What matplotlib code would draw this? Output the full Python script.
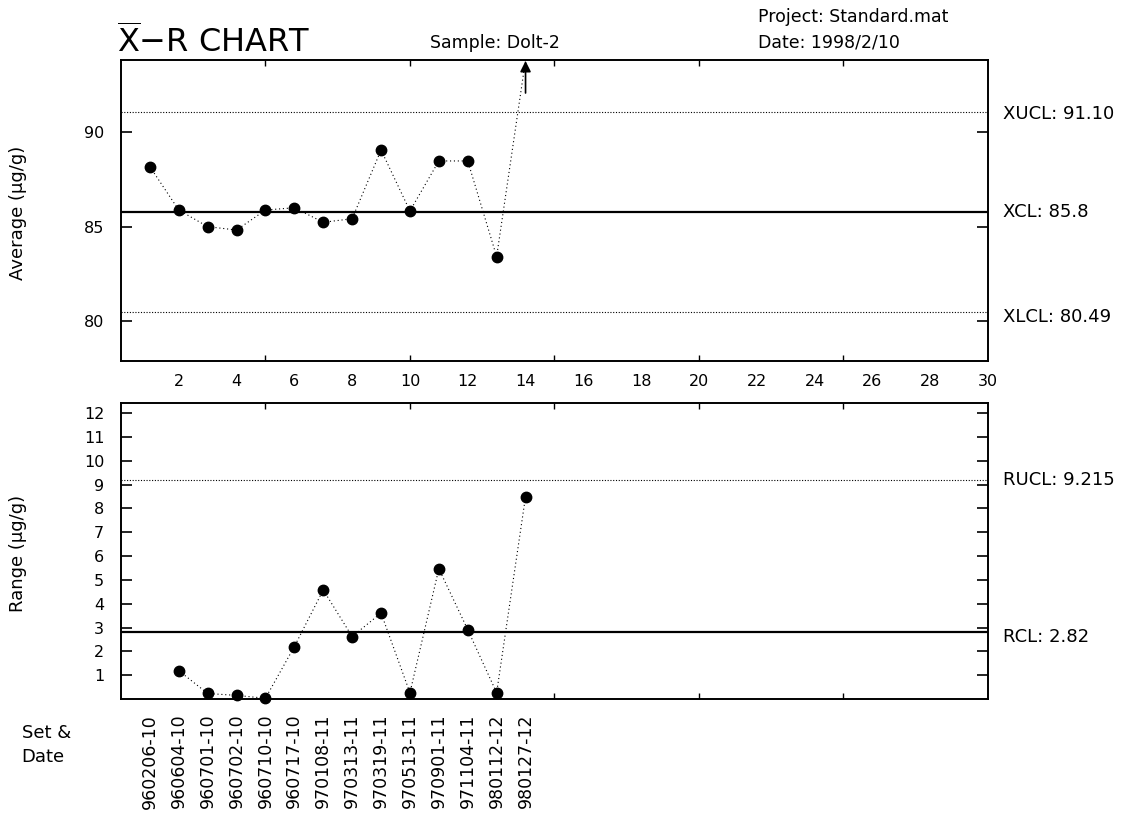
import matplotlib
matplotlib.use("Agg")
import matplotlib.pyplot as plt
from matplotlib.ticker import FixedLocator
import matplotlib.transforms as mtransforms

plt.rcParams['font.family'] = ['DejaVu Sans']
plt.rcParams['mathtext.fontset'] = 'dejavusans'

# ---------------- data ----------------
sets = list(range(1, 15))
dates = ["960206-10", "960604-10", "960701-10", "960702-10", "960710-10",
         "960717-10", "970108-11", "970313-11", "970319-11", "970513-11",
         "970901-11", "971104-11", "980112-12", "980127-12"]
avg_x = list(range(1, 14))
averages = [88.18, 85.88, 85.00, 84.82, 85.88, 86.00, 85.23, 85.42,
            89.06, 85.83, 88.48, 88.48, 83.41]
offscale_x = 14  # average of set 14 is above the chart (arrow)
range_x = list(range(2, 15))
ranges = [1.19, 0.23, 0.15, 0.03, 2.20, 4.58, 2.62, 3.61, 0.26, 5.47,
          2.91, 0.26, 8.50]
XUCL, XCL, XLCL = 91.10, 85.8, 80.49
RUCL, RCL = 9.215, 2.82
avg_ticks = [80, 85, 90]
range_ticks = list(range(1, 13))
x_labels = list(range(2, 31, 2))
x_minor = [5, 10, 15, 20, 25]

fig = plt.figure(figsize=(11.4, 8.33), dpi=100)
ax1 = fig.add_axes([0.1061, 0.5666, 0.7605, 0.3614])
ax2 = fig.add_axes([0.1061, 0.1609, 0.7605, 0.3553])

for ax in (ax1, ax2):
    for s in ax.spines.values():
        s.set_linewidth(1.4)
    ax.set_xlim(0, 30)
    ax.tick_params(axis='y', which='major', direction='in', length=8, width=1.2,
                   left=True, right=True, labelsize=11.5, pad=12)
    ax.xaxis.remove_overlapping_locs = False
    ax.xaxis.set_minor_locator(FixedLocator(x_minor))
    ax.tick_params(axis='x', which='minor', direction='in', length=4, width=1,
                   top=True, bottom=True)

# ---- average chart ----
ax1.set_ylim(77.88, 93.83)
ax1.set_yticks(avg_ticks)
ax1.set_xticks(x_labels)
ax1.tick_params(axis='x', which='major', length=0, labelsize=11.5, pad=9)
ax1.axhline(XUCL, color='black', lw=0.8, ls=(0, (1, 1.5)))
ax1.axhline(XLCL, color='black', lw=0.8, ls=(0, (1, 1.5)))
ax1.axhline(XCL, color='black', lw=1.6)
ytop = ax1.get_ylim()[1]
ax1.plot(avg_x + [offscale_x], averages + [ytop], color='black', lw=0.8,
         ls=(0, (1, 2.5)), clip_on=False)
ax1.plot(avg_x, averages, 'o', color='black', ms=7.5)
ax1.annotate('', xy=(offscale_x, ytop - 0.05), xytext=(offscale_x, 92.08),
             arrowprops=dict(arrowstyle='-|>', color='black', lw=1.2,
                             mutation_scale=16, shrinkA=0, shrinkB=0))

# ---- range chart ----
ax2.set_ylim(0, 12.43)
ax2.set_yticks(range_ticks)
ax2.set_xticks([])
ax2.axhline(RUCL, color='black', lw=0.8, ls=(0, (1, 1.5)))
ax2.axhline(RCL, color='black', lw=1.6)
ax2.plot(range_x, ranges, color='black', lw=0.8, ls=(0, (1, 2.5)))
ax2.plot(range_x, ranges, 'o', color='black', ms=7.5, clip_on=False)

trans = mtransforms.blended_transform_factory(ax2.transData, ax2.transAxes)
for x, d in zip(sets, dates):
    ax2.text(x, -0.05, d, transform=trans, rotation=90, ha='center', va='top',
             fontsize=12.5)

# ---- axis titles ----
fig.text(0.016, 0.745, 'Average (μg/g)', rotation=90, ha='center', va='center',
         fontsize=13)
fig.text(0.016, 0.336, 'Range (μg/g)', rotation=90, ha='center', va='center',
         fontsize=13)

# ---- right-side labels ----
for ax, y, s, dy in [(ax1, XUCL, f'XUCL: {XUCL:.2f}', -2),
                     (ax1, XCL, f'XCL: {XCL}', 0),
                     (ax1, XLCL, f'XLCL: {XLCL}', -5),
                     (ax2, RUCL, f'RUCL: {RUCL}', 0),
                     (ax2, RCL, f'RCL: {RCL}', -5)]:
    t = mtransforms.blended_transform_factory(ax.transAxes, ax.transData)
    t = t + mtransforms.ScaledTranslation(0, dy / 100, fig.dpi_scale_trans)
    ax.text(1.017, y, s, transform=t, ha='left', va='center', fontsize=13)

# ---- header texts ----
fig.text(0.103, 0.928, r'$\overline{\mathrm{X}}$−R CHART', fontsize=23,
         ha='left', va='bottom')
fig.text(0.377, 0.938, 'Sample: Dolt-2', fontsize=12.5, ha='left', va='bottom')
fig.text(0.665, 0.969, 'Project: Standard.mat', fontsize=12.5, ha='left', va='bottom')
fig.text(0.665, 0.938, 'Date: 1998/2/10', fontsize=12.5, ha='left', va='bottom')
fig.text(0.019, 0.120, 'Set &', fontsize=13, ha='left', va='center')
fig.text(0.019, 0.091, 'Date', fontsize=13, ha='left', va='center')

fig.savefig('out.png', dpi=100)
